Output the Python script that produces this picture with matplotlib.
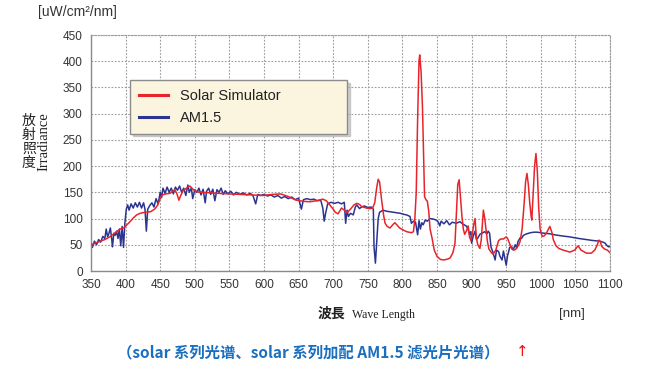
import matplotlib
matplotlib.use("Agg")
import matplotlib.pyplot as plt

# ---- data (wavelength nm, irradiance uW/cm2/nm) ----
sim_wl = [350, 360, 370, 377, 385, 392, 397, 405, 411, 416, 421, 428, 436, 442, 446, 450,
          453, 458, 464, 468, 471, 474, 477, 480, 483, 488, 493, 498, 503, 510, 522, 535,
          551, 565, 580, 598, 612, 624, 635, 647, 656, 666, 676, 685, 690, 695, 700, 703,
          707, 712, 716, 720, 725, 730, 734, 738, 741, 748, 753, 757, 760, 763, 765, 767,
          770, 773, 775, 778, 782, 786, 789, 792, 796, 800, 806, 813, 816, 818, 820, 822,
          824, 825, 827, 829, 831, 832, 834, 836, 838, 840, 843, 846, 850, 855, 860, 866,
          869, 873, 876, 878, 880, 882, 884, 886, 888, 890, 893, 895, 897, 899, 901, 903,
          905, 907, 909, 912, 914, 917, 919, 921, 923, 925, 928, 931, 935, 939, 942, 946,
          950, 952, 955, 958, 962, 965, 968, 970, 973, 976, 978, 980, 982, 984, 986, 987,
          989, 991, 993, 995, 997, 999, 1002, 1005, 1008, 1013, 1016, 1018, 1022, 1026,
          1032, 1042, 1049, 1054, 1058, 1062, 1066, 1073, 1078, 1081, 1084, 1086, 1088,
          1092, 1096, 1100]
sim_val = [50, 55, 60, 65, 73, 80, 82, 92, 101, 107, 110, 112, 113, 118, 125, 138,
           145, 147, 148, 152, 155, 148, 135, 145, 153, 158, 162, 155, 151, 150, 149, 148,
           147, 146, 145, 144, 146, 147, 142, 135, 133, 132, 134, 137, 134, 126, 118, 112,
           109, 120, 116, 111, 118, 126, 129, 127, 123, 120, 119, 120, 130, 160, 175, 170,
           135, 105, 91, 85, 82, 88, 92, 88, 82, 79, 75, 73, 75, 100, 150, 290,
           400, 412, 380, 313, 200, 142, 136, 133, 115, 80, 62, 40, 28, 22, 21, 23,
           25, 35, 53, 110, 165, 174, 140, 105, 80, 70, 78, 86, 65, 58, 70, 88,
           100, 62, 50, 43, 60, 116, 100, 78, 55, 42, 36, 32, 40, 58, 61, 61,
           65, 62, 52, 42, 40, 43, 50, 56, 80, 130, 170, 186, 165, 130, 105, 97,
           150, 200, 224, 190, 120, 80, 66, 67, 72, 85, 74, 60, 48, 43,
           40, 36, 40, 48, 40, 37, 34, 34, 40, 48, 59, 56, 47,
           42, 40, 35]

am_wl = [350, 352, 355, 358, 361, 364, 367, 370, 372, 374, 376, 378, 380, 381, 383, 385,
         387, 389, 391, 393, 395, 397, 399, 401, 403, 405, 408, 411, 414, 417, 420, 423,
         426, 428, 430, 432, 435, 438, 441, 444, 447, 450, 452, 454, 457, 460, 463, 466,
         469, 472, 475, 478, 481, 484, 487, 490, 492, 495, 497, 500, 503, 506, 509, 512,
         515, 517, 520, 523, 526, 529, 532, 535, 538, 541, 544, 548, 552, 556, 560, 565,
         570, 575, 580, 584, 588, 591, 595, 600, 605, 610, 615, 620, 625, 630, 635, 640,
         645, 650, 654, 657, 662, 667, 672, 677, 682, 685, 687, 689, 692, 697, 702, 707,
         712, 716, 718, 720, 722, 725, 729, 732, 734, 738, 741, 745, 750, 755, 758, 759,
         761, 763, 765, 767, 772, 777, 782, 787, 792, 797, 802, 806, 811, 813, 816, 819,
         822, 824, 826, 828, 830, 833, 836, 840, 845, 849, 852, 854, 856, 860, 864, 868,
         872, 878, 883, 888, 892, 895, 897, 899, 900, 902, 905, 907, 909, 912, 915, 919,
         922, 924, 926, 928, 931, 934, 936, 939, 941, 944, 946, 948, 950, 952, 953, 955,
         958, 960, 963, 965, 967, 970, 972, 975, 978, 980, 985, 990, 995, 1000, 1005, 1013,
         1020, 1030, 1042, 1055, 1066, 1076, 1085, 1090, 1093, 1096, 1098, 1100]
am_val = [50, 45, 57, 50, 60, 55, 66, 62, 80, 65, 72, 82, 60, 46, 72, 68,
          76, 62, 80, 48, 85, 45, 92, 118, 126, 116, 128, 120, 130, 122, 131, 120,
          130, 118, 76, 118, 125, 130, 122, 138, 128, 150, 140, 158, 148, 160, 150, 158,
          147, 160, 154, 162, 150, 158, 144, 164, 150, 158, 138, 155, 150, 158, 145, 156,
          130, 152, 158, 146, 156, 134, 155, 150, 158, 146, 153, 147, 152, 145, 150, 146,
          149, 145, 148, 144, 128, 146, 144, 146, 143, 145, 141, 144, 139, 142, 138, 141,
          136, 139, 118, 136, 138, 136, 137, 134, 135, 120, 95, 110, 128, 131, 129, 131,
          128, 131, 91, 116, 104, 110, 107, 122, 126, 119, 122, 124, 121, 122, 118, 46,
          15, 59, 100, 112, 116, 114, 113, 112, 111, 110, 108, 107, 104, 91, 95, 93,
          69, 96, 80, 92, 88, 97, 95, 100, 99, 97, 93, 86, 95, 90, 96, 88,
          93, 91, 94, 89, 86, 80, 70, 75, 53, 65, 76, 60, 63, 70, 72, 75,
          71, 76, 72, 46, 35, 21, 40, 37, 28, 21, 38, 24, 11, 30, 34, 45,
          46, 40, 50, 44, 56, 63, 62, 68, 70, 71, 73, 74, 74, 73, 72, 71,
          69, 67, 65, 62, 60, 58, 57, 55, 53, 48, 46, 47]

x_ticks = list(range(350, 1101, 50))
y_ticks = list(range(0, 451, 50))
ylabel_chars = ['放', '射', '照', '度']

RED = '#e8242b'
BLUE = '#2b3590'
GRID = '#9a9a9a'
TXT = '#333333'
SANS = ['Liberation Sans', 'DejaVu Sans']
SERIF = ['Liberation Serif', 'DejaVu Serif']
CJK = ['Noto Sans CJK JP', 'DejaVu Sans']

fig = plt.figure(figsize=(6.51, 3.65), dpi=100)
ax = fig.add_axes([91 / 651, 94 / 365, 519 / 651, 236 / 365])

ax.plot(sim_wl, sim_val, color=RED, lw=1.1, label='Solar Simulator', zorder=3)
ax.plot(am_wl, am_val, color=BLUE, lw=1.1, label='AM1.5', zorder=2)

ax.set_xlim(350, 1100)
ax.set_ylim(0, 450)
ax.set_xticks(x_ticks)
ax.set_yticks(y_ticks)
ax.set_xticklabels([str(v) for v in x_ticks], fontsize=8.5, color=TXT, family=SANS)
ax.set_yticklabels([str(v) for v in y_ticks], fontsize=8.5, color=TXT, family=SANS)
ax.tick_params(length=0, pad=6)
ax.grid(True, color=GRID, linestyle=(0, (1.5, 1.5)), linewidth=0.8)
for sp in ['top', 'right']:
    ax.spines[sp].set_color(GRID)
    ax.spines[sp].set_linestyle((0, (1.5, 1.5)))
    ax.spines[sp].set_linewidth(0.8)
for sp in ['left', 'bottom']:
    ax.spines[sp].set_color('#8a8a8a')
    ax.spines[sp].set_linewidth(1.0)

# legend box spans x 130..347, y 80..135 px
leg = ax.legend(loc='upper left',
                bbox_to_anchor=(130 / 651, 1 - 135 / 365, 217 / 651, 55 / 365),
                bbox_transform=fig.transFigure, mode='expand',
                prop={'family': SANS, 'size': 10.5},
                frameon=True, fancybox=False,
                shadow={'color': '#b0b0b0', 'alpha': 0.6},
                handlelength=2.0, handletextpad=0.8, borderpad=0.6,
                labelspacing=0.55, borderaxespad=0)
leg.get_frame().set_facecolor('#fbf4df')
leg.get_frame().set_edgecolor('#8c8c8c')
leg.get_frame().set_alpha(1)
for t in leg.get_texts():
    t.set_color('#222222')
for h in leg.get_lines():
    h.set_linewidth(2.2)

# axis titles
fig.text(38 / 651, 1 - 12 / 365, '[uW/cm²/nm]', fontsize=10, color=TXT, family=SANS,
         ha='left', va='center')
for i, ch in enumerate(ylabel_chars):
    fig.text(29 / 651, 1 - (121 + 14 * i) / 365, ch, fontsize=10, color='#222222',
             family=CJK, ha='center', va='center')
fig.text(44 / 651, 1 - 142 / 365, 'Irradiance', fontsize=10.5, color='#222222',
         family=SERIF, rotation=90, ha='center', va='center')
fig.text(345 / 651, 1 - 314 / 365, '波長', fontsize=10, color='#222222', family=CJK,
         ha='right', va='center', weight='bold')
fig.text(352 / 651, 1 - 315 / 365, 'Wave Length', fontsize=8.5, color='#222222',
         family=SERIF, ha='left', va='center')
fig.text(585 / 651, 1 - 314 / 365, '[nm]', fontsize=9.5, color=TXT, family=SANS,
         ha='right', va='center')

# caption
fig.text(117 / 651, 1 - 352 / 365, '（solar 系列光谱、solar 系列加配 AM1.5 滤光片光谱）',
         fontsize=11.1, color='#1a6fc0', weight='bold',
         family=['Noto Sans CJK SC', 'DejaVu Sans'], ha='left', va='center')
fig.text(522 / 651, 1 - 351 / 365, '↑', fontsize=11, color='#ee1111',
         family=['DejaVu Sans'], ha='center', va='center')

fig.savefig('out.png', dpi=100)
